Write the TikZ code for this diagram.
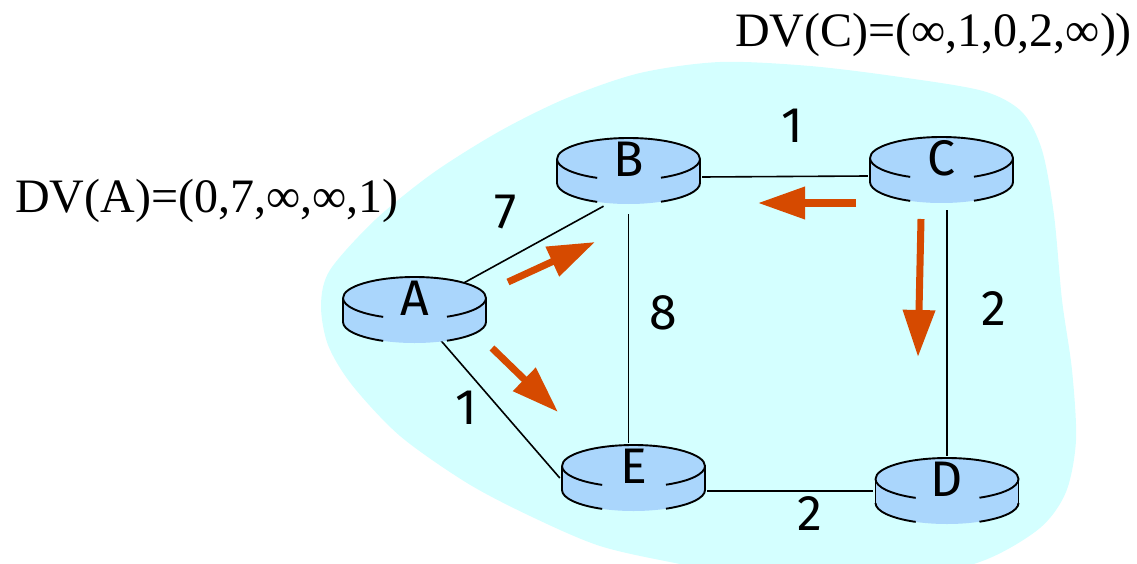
\documentclass[tikz,border=0pt]{standalone}
\usepackage{fontspec}
\setmainfont{Liberation Serif}
\newfontfamily\labelfont{Fira Sans}
\usetikzlibrary{arrows.meta,backgrounds}

\definecolor{cloudcyan}{RGB}{212,255,255}
\definecolor{routerblue}{RGB}{170,214,252}
\definecolor{dvorange}{RGB}{214,74,0}

% router icon, drawn inside the node box
\newcommand\routericon{%
  \begin{scope}[shift={(path picture bounding box.center)},line width=1.9pt]
    \fill[routerblue] (-71.5pt,12pt) -- (-71.5pt,-12pt)
      arc[start angle=180,end angle=360,x radius=71.5pt,y radius=21pt]
      -- (71.5pt,12pt)
      arc[start angle=0,end angle=180,x radius=71.5pt,y radius=21pt] -- cycle;
    \draw (-71.5pt,12pt) arc[start angle=180,end angle=0,x radius=71.5pt,y radius=21pt];
    \foreach \yc in {12pt,-12pt}{
      \draw (-71.5pt,\yc) arc[start angle=180,end angle=244,x radius=71.5pt,y radius=21pt];
      \draw ([shift={(0pt,\yc)}]297:71.5pt and 21pt) arc[start angle=297,end angle=360,x radius=71.5pt,y radius=21pt];
    }
    \draw (-71.5pt,12pt) -- (-71.5pt,-12pt);
    \draw (71.5pt,12pt) -- (71.5pt,-12pt);
  \end{scope}}

\begin{document}
\begin{tikzpicture}[x=1pt,y=-1pt,line join=round,
  router/.style={minimum width=147pt,minimum height=70pt,inner sep=0pt,
    path picture={\routericon},
    label={[routerletter,yshift=12pt]center:#1}},
  routerletter/.style={inner sep=0pt,font=\labelfont\fontsize{50}{60}\selectfont},
  link/.style={line width=1.6pt},
  weight/.style={inner sep=0pt,font=\labelfont\fontsize{50}{60}\selectfont},
  update/.style={draw=dvorange,line width=7pt,-{Triangle[length=47pt,width=31pt]}},
  dvtext/.style={inner sep=0pt,anchor=base west,font=\fontsize{48}{58}\selectfont}]
\useasboundingbox (0,0) rectangle (1137,564);

\node[router=A] (A) at (414.5,310) {};
\node[router=B] (B) at (628.5,171) {};
\node[router=C] (C) at (941.5,170) {};
\node[router=E] (E) at (633.5,478) {};
\node[router=D] (D) at (947,491) {};

\begin{scope}[on background layer]
  \begin{scope}
    \clip (0,0) rectangle (1137,564);
    \fill[cloudcyan] plot[smooth cycle,tension=0.5] coordinates {
      (720,62) (810,66) (900,77) (983,91) (1022,112) (1042,150) (1054,215)
      (1062,300) (1072,370) (1076,440) (1066,492) (1040,528) (985,560)
      (900,582) (780,582) (680,564) (600,546) (530,516) (467,483) (400,436)
      (352,385) (328,345) (321,305) (330,270) (375,220) (433,173) (500,131)
      (567,98) (640,73)};
  \end{scope}
  \draw[link] (A.center) -- ([xshift=-25pt]B.south);
  \draw[link] (A.center) -- (E.west);
  \draw[link,shorten <=8pt] (B.south) -- (B.south |- E.north);
  \draw[link] ([yshift=-6pt]B.east) -- ([yshift=-6pt]C.west);
  \draw[link,shorten <=5pt] (D.north |- C.south) -- (D.north);
  \draw[link] (E.east |- D.west) -- (D.west);
\end{scope}

% link costs
\node[weight] (wab) at (506,212) {7};
\node[weight] (wbe) at (663,313) {8};
\node[weight] (wbc) at (792,126) {1};
\node[weight] (wcd) at (994,309) {2};
\node[weight] (wae) at (466,408) {1};
\node[weight] (wed) at (810,514) {2};

% distance vectors being sent
\coordinate (ab0) at (508,282);
\coordinate (ab1) at (595,242);
\coordinate (ae0) at (492,348);
\coordinate (ae1) at (558,412);
\coordinate (cb0) at (856,203);
\coordinate (cb1) at (758,203);
\coordinate (cd0) at (921,219);
\coordinate (cd1) at (918,357);
\draw[update] (ab0) -- (ab1);
\draw[update] (ae0) -- (ae1);
\draw[update] (cb0) -- (cb1);
\draw[update] (cd0) -- (cd1);

\node[dvtext] (dva) at (15,212) {DV(A)=(0,7,∞,∞,1)};
\node[dvtext] (dvc) at (735,47) {DV(C)=(∞,1,0,2,∞))};
\end{tikzpicture}
\end{document}
